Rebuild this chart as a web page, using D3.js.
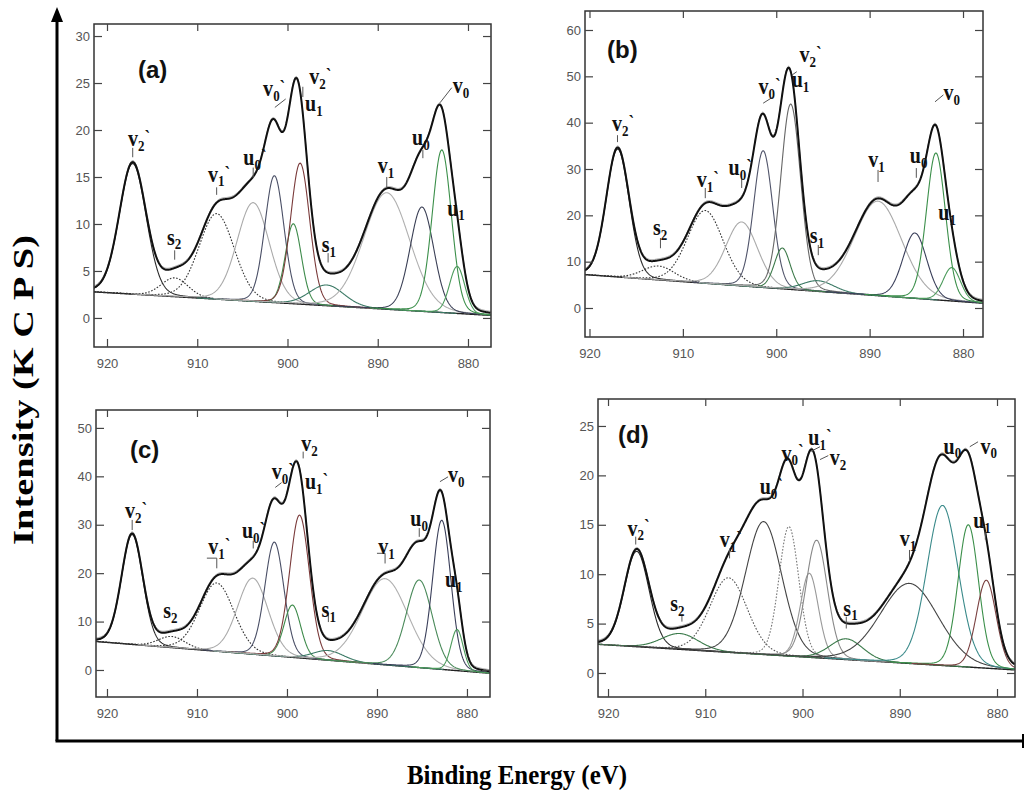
<!DOCTYPE html>
<html>
<head>
<meta charset="utf-8">
<script src="https://cdn.jsdelivr.net/npm/d3@7"></script>
<style>
body { margin: 0; background: #fff; }
</style>
</head>
<body>
<script>
// component order in every panel:
// v2`, s2, v1`, u0`, v0`, u1`, v2, s1, v1, u0, v0, u1
var xTicks = [920, 910, 900, 890, 880];
var bgEnergy = [921, 878];

var centersA = [917.15, 912.5, 907.85, 903.8, 901.45, 899.35, 898.6, 895.65, 889.0, 885.1, 882.9, 881.2];
var heightsA = [13.9, 2.0, 9.1, 10.5, 13.5, 8.5, 15.0, 2.2, 12.4, 11.1, 17.3, 5.0];
var widthsA  = [3.5, 3.5, 4.6, 4.2, 2.5, 2.1, 2.5, 4.5, 6.0, 3.1, 2.5, 2.0];
var bgA = [2.75, 0.3];
var yTicksA = [0, 5, 10, 15, 20, 25, 30];

var centersB = [916.98, 912.6, 907.6, 903.7, 901.4, 899.35, 898.45, 895.5, 889.1, 885.15, 882.9, 881.2];
var heightsB = [27.6, 3.0, 15.7, 13.8, 29.5, 8.8, 40.0, 2.3, 20.4, 14.1, 31.7, 7.2];
var widthsB  = [2.9, 4.0, 4.5, 4.0, 2.4, 2.0, 2.5, 4.0, 6.0, 3.0, 2.4, 2.2];
var bgB = [7.28, 1.05];
var yTicksB = [0, 10, 20, 30, 40, 50, 60];

var centersC = [917.2, 912.8, 907.8, 903.8, 901.4, 899.4, 898.6, 895.4, 889.1, 885.3, 882.8, 881.1];
var heightsC = [22.7, 2.3, 14.1, 15.7, 23.5, 10.8, 29.5, 2.0, 17.8, 18.1, 30.8, 8.5];
var widthsC  = [2.8, 3.5, 4.5, 4.0, 2.5, 2.2, 2.6, 4.0, 6.0, 3.4, 2.4, 1.6];
var bgC = [5.85, -0.6];
var yTicksC = [0, 10, 20, 30, 40, 50];

var centersD = [917.05, 912.6, 907.6, 904.0, 901.4, 899.3, 898.55, 895.5, 889.0, 885.6, 882.95, 881.1];
var heightsD = [9.65, 1.6, 7.55, 13.45, 13.1, 8.5, 11.9, 2.1, 8.1, 16.2, 14.4, 8.9];
var widthsD  = [3.0, 4.5, 4.5, 4.4, 2.4, 2.2, 2.6, 4.0, 7.0, 3.8, 2.5, 2.4];
var bgD = [2.9, 0.3];
var yTicksD = [0, 5, 10, 15, 20, 25];

// peak labels: letter, subscript, prime, energy, intensity (text anchor)
var labelsA = [["v","2",1,917.67,18.3],["s","2",0,913.35,7.8],["v","1",1,908.8,14.5],["u","0",1,904.9,16.3],
  ["v","0",1,902.7,23.6],["v","2",1,897.6,24.9],["u","1",0,898.05,22.0],["s","1",0,896.2,7.0],
  ["v","1",0,890.0,15.4],["u","0",0,886.2,18.4],["v","0",0,881.7,23.9],["u","1",0,882.3,10.9]];
var labelsB = [["v","2",1,917.6,38.2],["s","2",0,913.2,15.8],["v","1",1,908.5,26.1],["u","0",1,905.1,28.7],
  ["v","0",1,901.9,46.2],["v","2",1,897.5,53.0],["u","1",0,898.35,47.7],["s","1",0,896.4,14.0],
  ["v","1",0,890.15,30.4],["u","0",0,885.7,31.3],["v","0",0,882.1,44.9],["u","1",0,882.65,19.0]];
var labelsC = [["v","2",1,918.0,31.4],["s","2",0,913.75,10.7],["v","1",1,908.75,24.0],["u","0",1,905.0,27.3],
  ["v","0",1,901.7,39.5],["v","2",0,898.4,45.2],["u","1",1,898.0,37.4],["s","1",0,896.15,10.9],
  ["v","1",0,889.85,24.0],["u","0",0,886.3,29.7],["v","0",0,882.1,38.8],["u","1",0,882.45,17.1]];
var labelsD = [["v","2",1,918.0,13.9],["s","2",0,913.6,6.3],["v","1",1,908.5,12.75],["u","0",1,904.4,18.1],
  ["v","0",1,902.15,21.5],["u","1",1,899.4,23.1],["v","2",0,897.2,21.05],["s","1",0,895.8,5.8],
  ["v","1",0,890.0,12.85],["u","0",0,885.5,22.2],["v","0",0,881.7,22.2],["u","1",0,882.45,14.7]];

// little pointer lines under the labels
var pointersA = [[[917.15,18.1],[917.15,17.1]],[[912.5,7.2],[912.5,6.2]],[[907.85,13.9],[907.85,13.1]],
  [[903.8,16.0],[903.8,14.9]],[[901.4,22.4],[900.2,23.3]],[[898.3,24.6],[898.3,23.5]],[[895.5,6.9],[895.5,5.9]],
  [[889.0,15.0],[889.0,13.9]],[[885.0,17.9],[885.0,17.0]],[[883.1,22.9],[881.8,24.5]]];
var pointersB = [[[917.0,37.3],[917.0,35.8]],[[912.4,15.1],[912.4,12.9]],[[907.6,25.9],[907.6,23.7]],
  [[903.7,28.0],[903.7,25.9]],[[901.4,44.2],[900.3,45.6]],[[898.3,50.3],[897.8,51.0]],[[895.5,13.6],[895.5,11.4]],
  [[889.1,29.8],[889.1,27.2]],[[885.0,30.2],[885.0,28.1]],[[883.0,44.5],[882.1,46.0]]];
var pointersC = [[[917.2,31.0],[917.2,28.9]],[[908.9,23.1],[907.8,23.1],[907.8,21.0]],[[903.75,26.7],[903.75,25.1]],
  [[901.3,37.7],[900.6,38.7]],[[898.2,45.1],[898.2,43.7]],[[895.4,11.8],[895.4,9.9]],
  [[890.0,24.1],[889.1,24.1],[889.1,22.0]],[[885.3,29.3],[885.3,27.5]],[[883.0,38.9],[882.1,39.9]]];
var pointersD = [[[917.15,13.8],[917.15,13.0]],[[912.4,5.9],[912.4,5.2]],[[907.5,12.6],[907.5,11.6]],
  [[899.2,22.4],[898.2,22.9]],[[898.2,21.6],[897.35,22.0]],[[895.5,5.7],[895.5,4.5]],
  [[889.0,12.45],[889.0,11.3]],[[882.8,22.9],[881.95,23.4]],[[881.2,14.3],[881.2,13.5]]];

var DOT = "1.6,1.6";
var colorsA = ["#2a2a2a","#333","#333","#aaa","#4a4f66","#3d8a4a","#7a3a3a","#3c7a66","#b0b0b0","#3a3f55","#3b8f4a","#4a9a5a"];
var dashA   = [null, DOT, DOT, null, null, null, null, null, null, null, null, null];
var colorsB = ["#2a2a2a","#333","#333","#aaa","#50546a","#3d7a4a","#666","#3c7a66","#aaa","#3a3f5a","#3b8f4a","#4a9a5a"];
var dashB   = dashA;
var colorsC = ["#2a2a2a","#333","#333","#aaa","#4a4f66","#3d8a4a","#7a3a3a","#3c7a66","#b0b0b0","#4a8a5a","#3a3f5a","#4a9a5a"];
var dashC   = dashA;
var colorsD = ["#2a2a2a","#3a7a4a","#555","#444","#777","#999","#888","#3a7a4a","#444","#3a8a8a","#3b8f4a","#7a4040"];
var dashD   = [null, null, DOT, null, DOT, null, null, null, null, null, null, null];

var panels = [
  {name:"(a)", frame:[94,24,491,347], xDom:[921.44,877.45], yDom:[31.28,-3.09], yTicks:yTicksA,
   c:centersA, h:heightsA, w:widthsA, bg:bgA, labels:labelsA, pointers:pointersA, colors:colorsA, dash:dashA, tag:[138,78]},
  {name:"(b)", frame:[585,11,983,337], xDom:[920.48,877.86], yDom:[64.1,-6.26], yTicks:yTicksB,
   c:centersB, h:heightsB, w:widthsB, bg:bgB, labels:labelsB, pointers:pointersB, colors:colorsB, dash:dashB, tag:[607,58]},
  {name:"(c)", frame:[96,410,490,697], xDom:[921.22,877.44], yDom:[53.7,-5.58], yTicks:yTicksC,
   c:centersC, h:heightsC, w:widthsC, bg:bgC, labels:labelsC, pointers:pointersC, colors:colorsC, dash:dashC, tag:[130,458]},
  {name:"(d)", frame:[598,399,1015,697], xDom:[921.03,878.15], yDom:[27.73,-2.43], yTicks:yTicksD,
   c:centersD, h:heightsD, w:widthsD, bg:bgD, labels:labelsD, pointers:pointersD, colors:colorsD, dash:dashD, tag:[618,443]}
];

var ETA = 0.1;
function peak(x, c, h, w) {
  var t = (x - c) * (x - c) / (w * w);
  return h * ((1 - ETA) * Math.exp(-4 * Math.LN2 * t) + ETA / (1 + 4 * t));
}

var svg = d3.select("body").append("svg")
  .attr("width", 1025)
  .attr("height", 792);

panels.forEach(function(p, pi) {
  var f = p.frame;
  var x = d3.scaleLinear().domain(p.xDom).range([f[0], f[2]]);
  var y = d3.scaleLinear().domain(p.yDom).range([f[1], f[3]]);
  var bgScale = d3.scaleLinear().domain(bgEnergy).range(p.bg);
  var energies = d3.range(p.xDom[0], p.xDom[1], -0.05);

  var g = svg.append("g");
  g.append("clipPath").attr("id", "clip" + pi)
    .append("rect").attr("x", f[0]).attr("y", f[1]).attr("width", f[2] - f[0]).attr("height", f[3] - f[1]);
  var plot = g.append("g").attr("clip-path", "url(#clip" + pi + ")");

  var line = d3.line().x(function(d) { return x(d[0]); }).y(function(d) { return y(d[1]); });

  // background
  plot.append("path")
    .attr("d", line(energies.map(function(e) { return [e, bgScale(e)]; })))
    .attr("fill", "none").attr("stroke", "#222").attr("stroke-width", 1.4);

  // components
  p.c.forEach(function(c, i) {
    var pts = energies.filter(function(e) { return Math.abs(e - c) < p.w[i] * 3.2; })
      .map(function(e) { return [e, bgScale(e) + peak(e, c, p.h[i], p.w[i])]; });
    plot.append("path")
      .attr("d", line(pts))
      .attr("fill", "none")
      .attr("stroke", p.colors[i])
      .attr("stroke-width", 1.1)
      .attr("stroke-dasharray", p.dash[i]);
  });

  // envelope
  var env = energies.map(function(e) {
    var s = bgScale(e);
    p.c.forEach(function(c, i) { s += peak(e, c, p.h[i], p.w[i]); });
    return [e, s];
  });
  plot.append("path").attr("d", line(env))
    .attr("fill", "none").attr("stroke", "#999").attr("stroke-width", 1)
    .attr("transform", "translate(0,-1.5)");
  plot.append("path").attr("d", line(env))
    .attr("fill", "none").attr("stroke", "#111").attr("stroke-width", 2);

  // frame
  g.append("rect").attr("x", f[0]).attr("y", f[1]).attr("width", f[2] - f[0]).attr("height", f[3] - f[1])
    .attr("fill", "none").attr("stroke", "#333").attr("stroke-width", 1.5);

  // axes with inner ticks
  var axL = d3.axisLeft(y).tickValues(p.yTicks).tickSize(-8).tickPadding(4);
  var axR = d3.axisRight(y).tickValues(p.yTicks).tickSize(-8).tickFormat("");
  var axB = d3.axisBottom(x).tickValues(xTicks).tickSize(-8).tickPadding(12);
  var axT = d3.axisTop(x).tickValues(xTicks).tickSize(-7).tickFormat("");
  [[axL, "translate(" + f[0] + ",0)"], [axR, "translate(" + f[2] + ",0)"],
   [axB, "translate(0," + f[3] + ")"], [axT, "translate(0," + f[1] + ")"]].forEach(function(a) {
    var ag = g.append("g").attr("transform", a[1]).call(a[0]);
    ag.select(".domain").remove();
    ag.selectAll("line").attr("stroke", "#444").attr("stroke-width", 1.2);
    ag.selectAll("text").attr("fill", "#555").attr("font-family", "Liberation Sans, Arial, sans-serif")
      .attr("font-size", 13);
  });

  // pointer lines
  p.pointers.forEach(function(pl) {
    g.append("path").attr("d", line(pl)).attr("fill", "none").attr("stroke", "#555").attr("stroke-width", 1);
  });

  // peak labels
  p.labels.forEach(function(l) {
    var t = g.append("text")
      .attr("transform", "translate(" + x(l[3]) + "," + y(l[4]) + ") scale(1,1.2)")
      .attr("font-family", "Liberation Serif, Times New Roman, serif")
      .attr("font-weight", "bold")
      .attr("font-size", 20)
      .attr("fill", "#111");
    t.append("tspan").text(l[0]);
    t.append("tspan").attr("font-size", 13).attr("dy", 4).text(l[1]);
    if (l[2]) t.append("tspan").attr("font-size", 17).attr("dy", -5).text("`");
  });

  // panel tag
  g.append("text").attr("x", p.tag[0]).attr("y", p.tag[1])
    .attr("font-family", "Liberation Sans, Arial, sans-serif")
    .attr("font-weight", "bold").attr("font-size", 24).attr("fill", "#111")
    .text(p.name);
});

// big outer axes
svg.append("line").attr("x1", 57).attr("y1", 741).attr("x2", 57).attr("y2", 20)
  .attr("stroke", "#000").attr("stroke-width", 3);
svg.append("path").attr("d", "M57,7 L51,22 L63,22 Z").attr("fill", "#000");
svg.append("line").attr("x1", 55.5).attr("y1", 741).attr("x2", 1024).attr("y2", 741)
  .attr("stroke", "#000").attr("stroke-width", 3);
svg.append("line").attr("x1", 1023).attr("y1", 734).attr("x2", 1023).attr("y2", 748)
  .attr("stroke", "#000").attr("stroke-width", 2);

svg.append("text")
  .attr("transform", "translate(33,390) rotate(-90)")
  .attr("text-anchor", "middle")
  .attr("font-family", "Liberation Serif, Times New Roman, serif")
  .attr("font-weight", "bold").attr("font-size", 30)
  .attr("textLength", 310).attr("lengthAdjust", "spacingAndGlyphs")
  .text("Intensity (K C P S)");

svg.append("text")
  .attr("x", 517).attr("y", 784)
  .attr("text-anchor", "middle")
  .attr("font-family", "Liberation Serif, Times New Roman, serif")
  .attr("font-weight", "bold").attr("font-size", 28)
  .attr("textLength", 220).attr("lengthAdjust", "spacingAndGlyphs")
  .text("Binding Energy (eV)");
</script>
</body>
</html>
